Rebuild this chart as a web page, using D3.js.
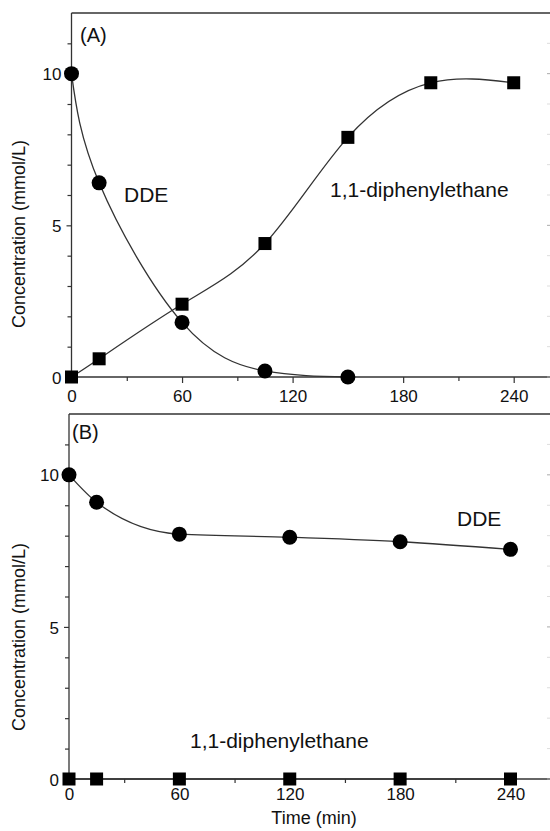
<!DOCTYPE html>
<html>
<head>
<meta charset="utf-8">
<script src="https://cdn.jsdelivr.net/npm/d3@7"></script>
<style>
  html, body { margin: 0; padding: 0; background: #fff; }
  svg { display: block; }
  text { font-family: "Liberation Sans", Arial, sans-serif; fill: #111; }
</style>
</head>
<body>
<svg id="chart" width="550" height="831"></svg>
<script>
// ---------- DATA ----------
const timesA = [0, 15, 60, 105, 150, 195, 240];
const ddeTimesA = [0, 15, 60, 105, 150];
const ddeA = [10, 6.4, 1.8, 0.2, 0];
const dpeA = [0, 0.6, 2.4, 4.4, 7.9, 9.7, 9.7];

const timesB = [0, 15, 60, 120, 180, 240];
const ddeB = [10, 9.1, 8.05, 7.95, 7.8, 7.55];
const dpeB = [0, 0, 0, 0, 0, 0];

const xTickValues = [0, 60, 120, 180, 240];
const xMinorValues = [30, 90, 150, 210, 270];
const yTickValues = [0, 5, 10];
const yMinorValues = [1, 2, 3, 4, 6, 7, 8, 9, 11];

const panelLetters = ["(A)", "(B)"];
const seriesNames = ["DDE", "1,1-diphenylethane"];
const yTitle = "Concentration (mmol/L)";
const xTitle = "Time (min)";

// ---------- LAYOUT ----------
const svg = d3.select("#chart");
const lineColor = "#333";

const panels = [
  {
    letter: panelLetters[0], top: 13, bottom: 377, left: 71.5, x240: 513.7,
    tickLabelDy: 25,
    series: [
      { t: ddeTimesA, v: ddeA, marker: "circle", curve: d3.curveNatural },
      { t: timesA, v: dpeA, marker: "square", curve: d3.curveNatural }
    ],
    labels: [
      { text: seriesNames[0], x: 124, y: 202 },
      { text: seriesNames[1], x: 330, y: 197 }
    ],
    letterPos: { x: 80, y: 42 },
    yTitleY: 234
  },
  {
    letter: panelLetters[1], top: 414, bottom: 779, left: 69, x240: 510.5,
    tickLabelDy: 21,
    series: [
      { t: timesB, v: ddeB, marker: "circle", curve: d3.curveMonotoneX },
      { t: timesB, v: dpeB, marker: "square", curve: d3.curveMonotoneX }
    ],
    labels: [
      { text: seriesNames[0], x: 457, y: 526 },
      { text: seriesNames[1], x: 190, y: 748 }
    ],
    letterPos: { x: 72, y: 439 },
    yTitleY: 637
  }
];

const rightEdge = 551;

panels.forEach(p => {
  const g = svg.append("g");
  const x = d3.scaleLinear().domain([0, 240]).range([p.left, p.x240]);
  const y = d3.scaleLinear().domain([0, 12]).range([p.bottom, p.top]);

  // top frame line
  g.append("line")
    .attr("x1", p.left).attr("x2", rightEdge)
    .attr("y1", p.top).attr("y2", p.top)
    .attr("stroke", lineColor).attr("stroke-width", 1.3);

  // bottom axis line
  g.append("line")
    .attr("x1", p.left).attr("x2", rightEdge)
    .attr("y1", p.bottom).attr("y2", p.bottom)
    .attr("stroke", lineColor).attr("stroke-width", 1.3);

  // left axis line
  g.append("line")
    .attr("x1", p.left).attr("x2", p.left)
    .attr("y1", p.top).attr("y2", p.bottom)
    .attr("stroke", lineColor).attr("stroke-width", 1.3);

  const yMinor = g.append("g").attr("transform", `translate(${p.left},0)`)
    .call(d3.axisLeft(y).tickValues(yMinorValues).tickSize(4).tickFormat(""));
  const yMajor = g.append("g").attr("transform", `translate(${p.left},0)`)
    .call(d3.axisLeft(y).tickValues(yTickValues).tickSize(5).tickPadding(5).tickFormat(d3.format("d")));

  const xMinor = g.append("g").attr("transform", `translate(0,${p.bottom})`)
    .call(d3.axisBottom(x).tickValues(xMinorValues).tickSize(4).tickFormat(""));
  const xMajor = g.append("g").attr("transform", `translate(0,${p.bottom})`)
    .call(d3.axisBottom(x).tickValues(xTickValues).tickSize(6).tickPadding(6).tickFormat(d3.format("d")));

  [yMinor, yMajor, xMinor, xMajor].forEach(a => {
    a.select(".domain").remove();
    a.selectAll(".tick line").attr("stroke", lineColor).attr("stroke-width", 1.2);
    a.selectAll(".tick text")
      .style("font-family", '"Liberation Sans", Arial, sans-serif')
      .style("font-size", "17px").attr("fill", "#111");
  });
  xMajor.selectAll(".tick text").attr("dy", null).attr("y", p.tickLabelDy);
  yMajor.selectAll(".tick text").attr("dy", "0.36em");

  // faint right-side ticks (cropped right axis)
  const rightTicks = yMinorValues.concat(yTickValues);
  g.selectAll(".rtick").data(rightTicks).join("line")
    .attr("x1", 547).attr("x2", 551)
    .attr("y1", d => y(d)).attr("y2", d => y(d))
    .attr("stroke", d => yTickValues.includes(d) ? "#aaa" : "#ddd")
    .attr("stroke-width", 1);

  // curves
  p.series.forEach(s => {
    const pts = s.t.map((t, i) => [t, s.v[i]]);
    const line = d3.line().x(d => x(d[0])).y(d => y(d[1])).curve(s.curve);
    g.append("path").attr("d", line(pts))
      .attr("fill", "none").attr("stroke", lineColor).attr("stroke-width", 1.3);
  });
  // markers
  p.series.forEach(s => {
    const pts = s.t.map((t, i) => [t, s.v[i]]);
    if (s.marker === "circle") {
      g.selectAll(null).data(pts).join("circle")
        .attr("cx", d => x(d[0])).attr("cy", d => y(d[1]))
        .attr("r", 7.5).attr("fill", "#000");
    } else {
      const sz = 13;
      g.selectAll(null).data(pts).join("rect")
        .attr("x", d => x(d[0]) - sz / 2).attr("y", d => y(d[1]) - sz / 2)
        .attr("width", sz).attr("height", sz).attr("fill", "#000");
    }
  });

  p.labels.forEach(l => {
    g.append("text").attr("x", l.x).attr("y", l.y)
      .style("font-size", "21px").text(l.text);
  });
  g.append("text").attr("x", p.letterPos.x).attr("y", p.letterPos.y)
    .style("font-size", "20px").text(p.letter);

  g.append("text")
    .attr("transform", `translate(25,${p.yTitleY}) rotate(-90)`)
    .attr("text-anchor", "middle")
    .style("font-size", "18px").text(yTitle);
});

svg.append("text").attr("x", 314).attr("y", 824)
  .attr("text-anchor", "middle").style("font-size", "18px").text(xTitle);
</script>
</body>
</html>
